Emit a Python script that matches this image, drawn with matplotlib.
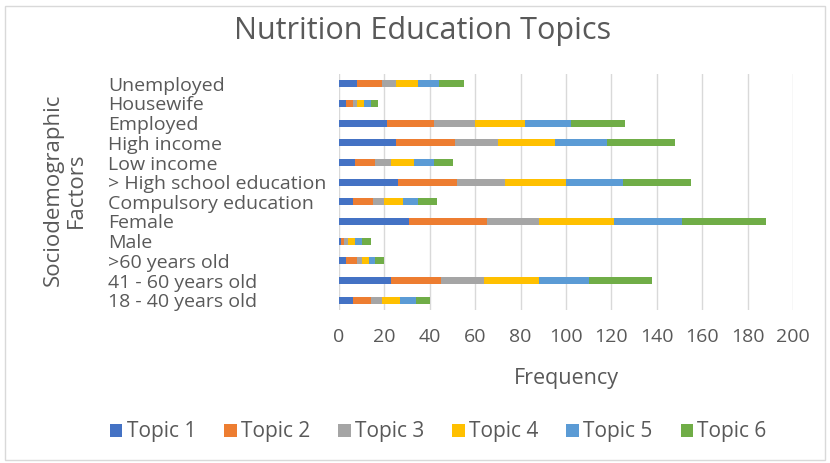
import numpy as np
import matplotlib.pyplot as plt
from matplotlib.patches import Rectangle

plt.rcParams['font.family'] = ['Open Sans', 'DejaVu Sans']

# categories top to bottom as listed on the chart
grupos = ['Unemployed', 'Housewife', 'Employed', 'High income', 'Low income',
          '> High school education', 'Compulsory education', 'Female', 'Male',
          '>60 years old', '41 - 60 years old', '18 - 40 years old']

topic1 = [8, 3, 21, 25, 7, 26, 6, 31, 1, 3, 23, 6]
topic2 = [11, 3, 21, 26, 9, 26, 9, 34, 1, 5, 22, 8]
topic3 = [6, 2, 18, 19, 7, 21, 5, 23, 2, 2, 19, 5]
topic4 = [10, 3, 22, 25, 10, 27, 8, 33, 3, 3, 24, 8]
topic5 = [9, 3, 20, 23, 9, 25, 7, 30, 3, 3, 22, 7]
topic6 = [11, 3, 24, 30, 8, 30, 8, 37, 4, 4, 28, 6]

series = [topic1, topic2, topic3, topic4, topic5, topic6]
nombres = ['Topic 1', 'Topic 2', 'Topic 3', 'Topic 4', 'Topic 5', 'Topic 6']
colores = ['#4472C4', '#ED7D31', '#A5A5A5', '#FFC000', '#5B9BD5', '#70AD47']
texto = '#595959'

fig = plt.figure(figsize=(8.30, 4.63), dpi=100)
ax = fig.add_axes([339/830, 1-310/463, (793-339)/830, (310-74)/463])

y = np.arange(len(grupos))[::-1]  # first category on top
izq = np.zeros(len(grupos))
for vals, nom, col in zip(series, nombres, colores):
    ax.barh(y, vals, left=izq, height=0.37, color=col, label=nom, zorder=3)
    izq += np.array(vals)

ax.set_xlim(0, 200)
ax.set_ylim(-0.5, len(grupos)-0.5)
ax.set_xticks(np.arange(0, 201, 20))
ax.grid(axis='x', color='#d9d9d9', linewidth=1, zorder=0)
for s in ax.spines.values():
    s.set_visible(False)

ax.set_yticks(y)
ax.set_yticklabels(grupos, ha='left', fontsize=14, color=texto)
ax.tick_params(axis='y', length=0, pad=166)
ax.tick_params(axis='x', length=0, pad=13, labelsize=14, labelcolor=texto)

ax.set_xlabel('Frequency', fontsize=15.5, color=texto, labelpad=16)
fig.text(65/830, 1-190/463, 'Sociodemographic\nFactors', rotation=90,
         ha='center', va='center', fontsize=16, color=texto,
         multialignment='center', linespacing=1.1)

fig.text(0.509, 1-31/463, 'Nutrition Education Topics', ha='center', va='center',
         fontsize=22, color=texto)

fig.legend(loc='center', bbox_to_anchor=(0.528, 1-432/463), ncol=6,
           frameon=False, fontsize=15, labelcolor=texto,
           handlelength=0.6, handleheight=0.6, handletextpad=0.2, columnspacing=1.35)

# thin frame around the chart
fig.patches.append(Rectangle((0.006, 0.006), 0.988, 0.982, transform=fig.transFigure,
                             fill=False, edgecolor='#d9d9d9', linewidth=1))

fig.savefig('out.png', dpi=100)
